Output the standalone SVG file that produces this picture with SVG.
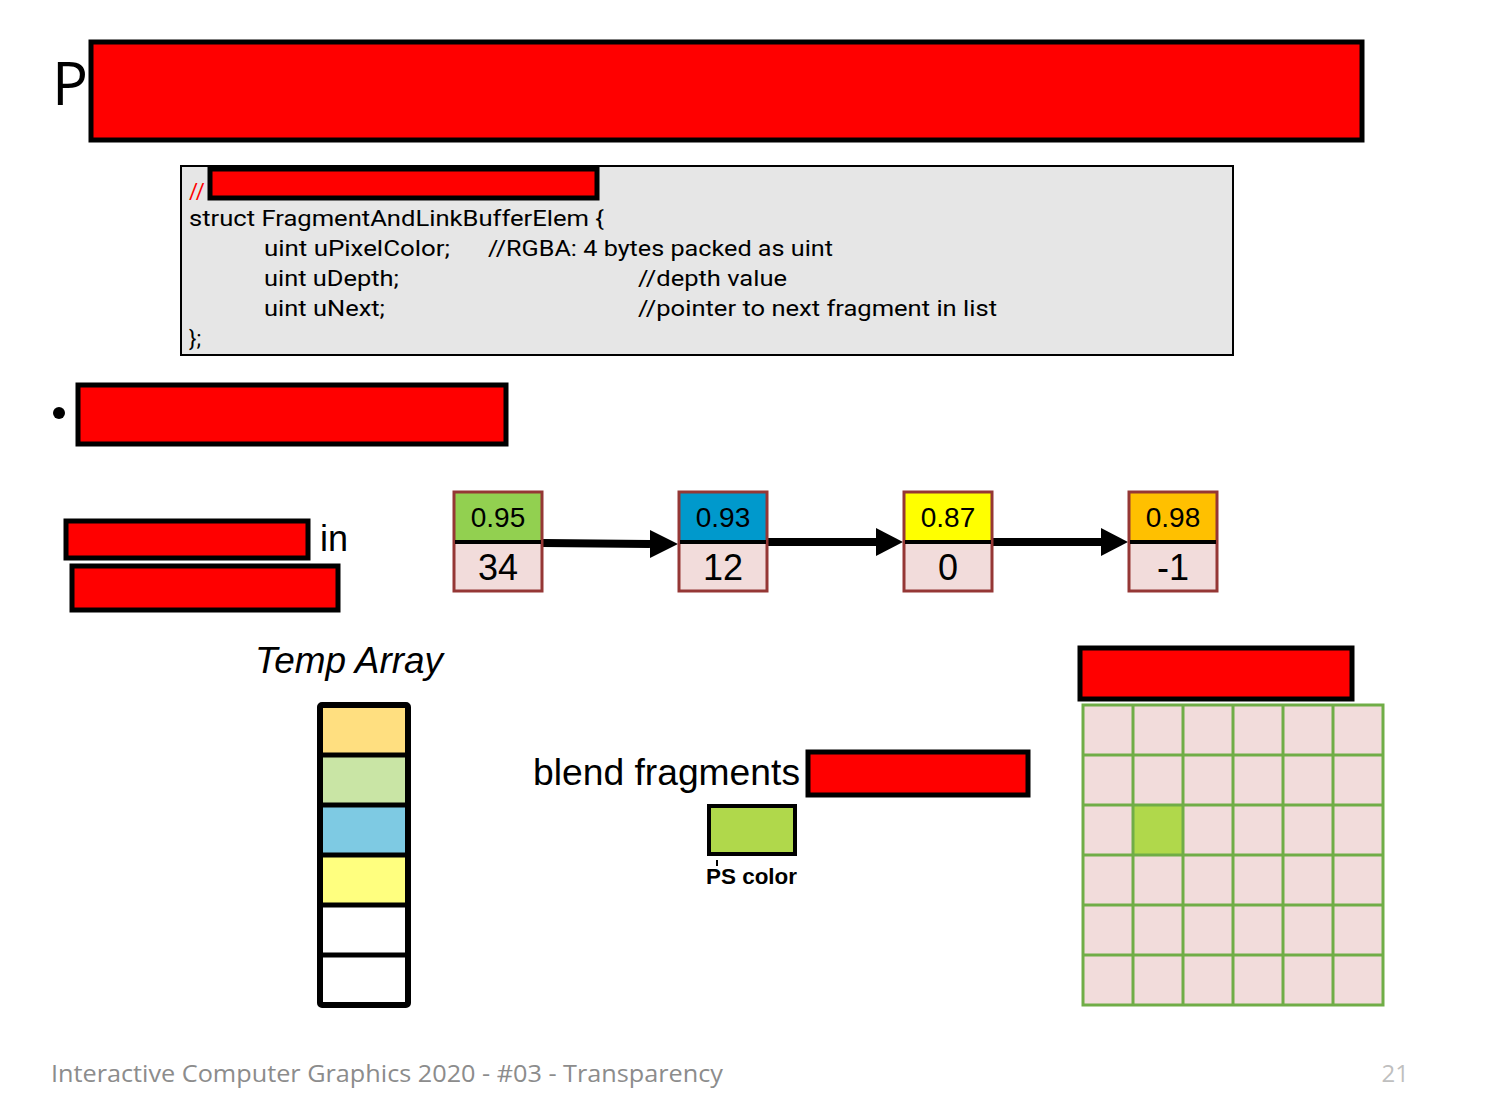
<svg xmlns="http://www.w3.org/2000/svg" width="1494" height="1119" viewBox="0 0 1494 1119">
<defs>
<style>
.red{fill:#ff0000;stroke:#000;stroke-width:5}
.code{font-family:"Roboto","Liberation Sans",sans-serif;font-size:22px;fill:#000}
.sans{font-family:"Liberation Sans",Arial,sans-serif;fill:#000}
.node{stroke:#953735;stroke-width:3}
.bot{fill:#f2dcdb}
.arrow{stroke:#000;stroke-width:8;fill:none}
.grid{fill:#f2dcdb;stroke:#70ad47;stroke-width:3}
</style>
</defs>
<rect width="1494" height="1119" fill="#fff"/>

<g id="title">
<text x="52" y="105" font-family="Open Sans, Liberation Sans, sans-serif" font-size="60" fill="#000">P</text>
<rect class="red" x="91" y="42" width="1271" height="98"/>
</g>

<g id="code">
<rect x="181" y="166" width="1052" height="189" fill="#e6e6e6" stroke="#000" stroke-width="2"/>
<text x="189" y="199" class="code" style="fill:#ff0000">//</text>
<rect class="red" x="210" y="169" width="387" height="29" stroke-width="4"/>
<text x="189" y="226" class="code" textLength="415" lengthAdjust="spacingAndGlyphs">struct FragmentAndLinkBufferElem {</text>
<text x="264" y="256" class="code" textLength="186" lengthAdjust="spacingAndGlyphs">uint uPixelColor;</text>
<text x="488" y="256" class="code" textLength="345" lengthAdjust="spacingAndGlyphs">//RGBA: 4 bytes packed as uint</text>
<text x="264" y="286" class="code" textLength="135" lengthAdjust="spacingAndGlyphs">uint uDepth;</text>
<text x="638" y="286" class="code" textLength="149" lengthAdjust="spacingAndGlyphs">//depth value</text>
<text x="264" y="316" class="code" textLength="121" lengthAdjust="spacingAndGlyphs">uint uNext;</text>
<text x="638" y="316" class="code" textLength="359" lengthAdjust="spacingAndGlyphs">//pointer to next fragment in list</text>
<text x="189" y="346" class="code">};</text>
</g>

<g id="bullet">
<circle cx="59" cy="413" r="6" fill="#000"/>
<rect class="red" x="78" y="385" width="428" height="59"/>
</g>

<g id="labels-left">
<rect class="red" x="66" y="521" width="242" height="37"/>
<text x="320" y="551" class="sans" font-size="36">in</text>
<rect class="red" x="72" y="566" width="266" height="44"/>
</g>

<g id="connectors">
<line class="arrow" x1="543" y1="543" x2="650" y2="544"/>
<path d="M650,530 L678,544 L650,558 Z" fill="#000"/>
<line class="arrow" x1="768" y1="542" x2="876" y2="542"/>
<path d="M876,528 L903,542 L876,556 Z" fill="#000"/>
<line class="arrow" x1="993" y1="542" x2="1101" y2="542"/>
<path d="M1101,528 L1128,542 L1101,556 Z" fill="#000"/>
</g>

<g id="node1">
<rect x="454" y="492" width="88" height="50" fill="#92d050"/>
<rect x="454" y="542" width="88" height="49" class="bot"/>
<rect x="454" y="492" width="88" height="99" fill="none" class="node"/>
<line x1="455" y1="542" x2="541" y2="542" stroke="#000" stroke-width="4"/>
<text x="498" y="527" class="sans" font-size="28" text-anchor="middle">0.95</text>
<text x="498" y="580" class="sans" font-size="36" text-anchor="middle">34</text>
</g>
<g id="node2">
<rect x="679" y="492" width="88" height="50" fill="#0099cc"/>
<rect x="679" y="542" width="88" height="49" class="bot"/>
<rect x="679" y="492" width="88" height="99" fill="none" class="node"/>
<line x1="680" y1="542" x2="766" y2="542" stroke="#000" stroke-width="4"/>
<text x="723" y="527" class="sans" font-size="28" text-anchor="middle">0.93</text>
<text x="723" y="580" class="sans" font-size="36" text-anchor="middle">12</text>
</g>
<g id="node3">
<rect x="904" y="492" width="88" height="50" fill="#ffff00"/>
<rect x="904" y="542" width="88" height="49" class="bot"/>
<rect x="904" y="492" width="88" height="99" fill="none" class="node"/>
<line x1="905" y1="542" x2="991" y2="542" stroke="#000" stroke-width="4"/>
<text x="948" y="527" class="sans" font-size="28" text-anchor="middle">0.87</text>
<text x="948" y="580" class="sans" font-size="36" text-anchor="middle">0</text>
</g>
<g id="node4">
<rect x="1129" y="492" width="88" height="50" fill="#ffc000"/>
<rect x="1129" y="542" width="88" height="49" class="bot"/>
<rect x="1129" y="492" width="88" height="99" fill="none" class="node"/>
<line x1="1130" y1="542" x2="1216" y2="542" stroke="#000" stroke-width="4"/>
<text x="1173" y="527" class="sans" font-size="28" text-anchor="middle">0.98</text>
<text x="1173" y="580" class="sans" font-size="36" text-anchor="middle">-1</text>
</g>

<g id="temp-array">
<text x="255" y="673" class="sans" font-size="36" font-style="italic" textLength="188" lengthAdjust="spacingAndGlyphs">Temp Array</text>
<rect x="321" y="706" width="86" height="48" fill="#ffdf80"/>
<rect x="321" y="754" width="86" height="50" fill="#c9e5a5"/>
<rect x="321" y="804" width="86" height="50" fill="#7ecae3"/>
<rect x="321" y="854" width="86" height="50" fill="#ffff7f"/>
<rect x="321" y="904" width="86" height="100" fill="#fff"/>
<g stroke="#000" stroke-width="5">
<line x1="321" y1="755" x2="407" y2="755"/>
<line x1="321" y1="805" x2="407" y2="805"/>
<line x1="321" y1="855" x2="407" y2="855"/>
<line x1="321" y1="905" x2="407" y2="905"/>
<line x1="321" y1="955" x2="407" y2="955"/>
</g>
<rect x="320" y="705" width="88" height="300" rx="2" fill="none" stroke="#000" stroke-width="6"/>
</g>

<g id="blend">
<text x="533" y="785" class="sans" font-size="36" textLength="267" lengthAdjust="spacingAndGlyphs">blend fragments</text>
<rect class="red" x="808" y="752" width="220" height="43"/>
</g>

<g id="ps-color">
<rect x="709" y="806" width="86" height="48" fill="#b0d84b" stroke="#000" stroke-width="4"/>
<line x1="717" y1="860" x2="717" y2="866" stroke="#000" stroke-width="2"/>
<text x="706" y="884" class="sans" font-size="22" font-weight="bold" textLength="91" lengthAdjust="spacingAndGlyphs">PS color</text>
</g>

<g id="framebuffer">
<rect class="red" x="1080" y="648" width="272" height="51"/>
<rect class="grid" x="1083" y="705" width="300" height="300"/>
<rect x="1133" y="805" width="50" height="50" fill="#b0d84b"/>
<g stroke="#70ad47" stroke-width="3">
<line x1="1133" y1="705" x2="1133" y2="1005"/>
<line x1="1183" y1="705" x2="1183" y2="1005"/>
<line x1="1233" y1="705" x2="1233" y2="1005"/>
<line x1="1283" y1="705" x2="1283" y2="1005"/>
<line x1="1333" y1="705" x2="1333" y2="1005"/>
<line x1="1083" y1="755" x2="1383" y2="755"/>
<line x1="1083" y1="805" x2="1383" y2="805"/>
<line x1="1083" y1="855" x2="1383" y2="855"/>
<line x1="1083" y1="905" x2="1383" y2="905"/>
<line x1="1083" y1="955" x2="1383" y2="955"/>
</g>
</g>

<g id="footer">
<text x="51" y="1082" font-family="Open Sans, Liberation Sans, sans-serif" font-size="24" fill="#8c8c8c" textLength="672" lengthAdjust="spacingAndGlyphs">Interactive Computer Graphics 2020 - #03 - Transparency</text>
<text x="1409" y="1082" font-family="Open Sans, Liberation Sans, sans-serif" font-size="24" fill="#bfbfbf" text-anchor="end">21</text>
</g>
</svg>
